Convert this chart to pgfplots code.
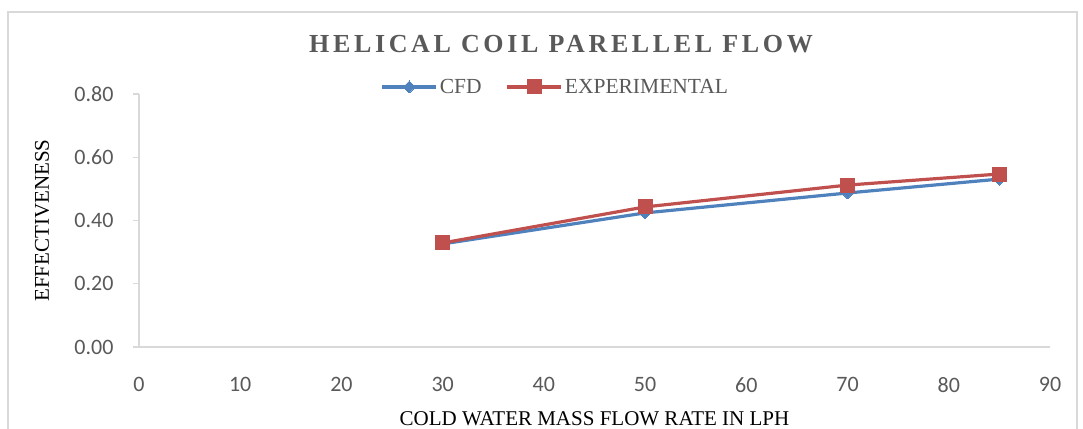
\documentclass[border=0pt]{standalone}
\usepackage{fontspec}
\setmainfont{Liberation Serif}
\newfontfamily\carlito{Carlito}
\newfontfamily\titlefont[LetterSpace=14]{Liberation Serif}
\usepackage{pgfplots}
\pgfplotsset{compat=1.18}
\definecolor{cfd}{HTML}{4F81BD}
\definecolor{exp}{HTML}{C0504D}
\definecolor{txtgray}{HTML}{595959}
\definecolor{axgray}{HTML}{D9D9D9}
\begin{document}
\begin{tikzpicture}
\useasboundingbox (0pt,0pt) rectangle (1083pt,428pt);
\draw[axgray, line width=1.3pt] (8pt,-5pt) -- (8pt,416pt) -- (1077pt,416pt) -- (1077pt,-5pt);
\node[font=\fontsize{26}{30}\selectfont\titlefont\bfseries, text=txtgray, anchor=center] at (561pt,384pt) {HELICAL COIL PARELLEL FLOW};
\begin{axis}[
  at={(139pt,81pt)}, anchor=south west,
  scale only axis, width=911pt, height=253pt,
  xmin=0, xmax=90, ymin=0, ymax=0.8,
  xtick={0,10,...,90}, ytick={0,0.2,0.4,0.6,0.8},
  axis x line=bottom, axis y line=left,
  axis line style={axgray, line width=1.3pt, -},
  x axis line style={-}, y axis line style={-},
  major x tick style={draw=none},
  major y tick style={axgray, line width=1.3pt},
  tick align=outside, major tick length=6pt,
  /pgf/number format/assume math mode=true,
  ticklabel style={font=\fontsize{22}{26}\selectfont\carlito, text=txtgray},
  yticklabel style={/pgf/number format/fixed, /pgf/number format/fixed zerofill, /pgf/number format/precision=2, xshift=-16pt},
  xticklabel style={yshift=-21pt},
  xlabel={COLD WATER MASS FLOW RATE IN LPH},
  ylabel={EFFECTIVENESS},
  label style={font=\fontsize{21}{25}\selectfont},
  xlabel style={at={(axis description cs:0.5,-0.283)}, anchor=center},
  ylabel style={at={(axis description cs:-0.1065,0.5)}, anchor=center},
  legend columns=2,
  legend style={draw=none, fill=none, at={(rel axis cs:0.457,1.028)}, anchor=center,
    font=\fontsize{21.5}{25}\selectfont, text=txtgray,
    /tikz/every even column/.append style={column sep=22pt},
    inner sep=0pt},
  legend image code/.code={\draw[mark repeat=2,mark phase=2] plot coordinates {(0pt,0pt)(27pt,0pt)(54pt,0pt)};},
  clip=false,
]
\addplot[cfd, line width=3.2pt, mark=square*, mark size=4.2pt, mark options={solid, rotate=45, fill=cfd, draw=cfd, line width=0pt}]
  coordinates {(30,0.326) (50,0.424) (70,0.487) (85,0.531)};
\addlegendentry{CFD}
\addplot[exp, line width=3.2pt, mark=square*, mark size=7pt, mark options={solid, fill=exp, draw=exp, line width=0pt}]
  coordinates {(30,0.329) (50,0.443) (70,0.512) (85,0.547)};
\addlegendentry{EXPERIMENTAL}
\end{axis}
\end{tikzpicture}
\end{document}
